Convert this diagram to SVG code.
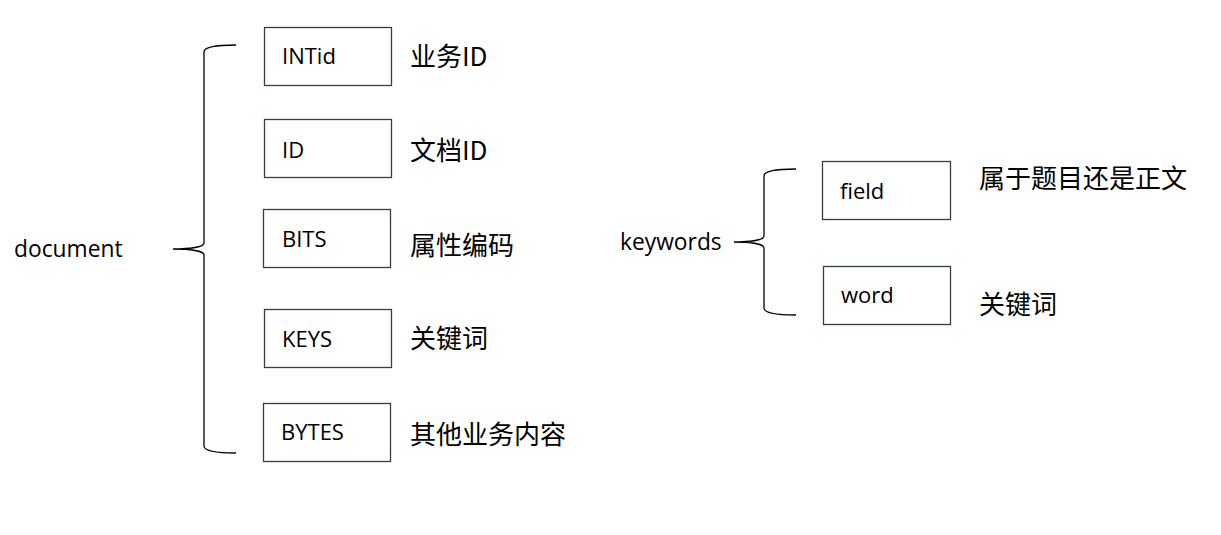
<svg xmlns="http://www.w3.org/2000/svg" width="1221" height="535" viewBox="0 0 1221 535">
<style>
.box{fill:#fff;stroke:#2f3f4f;stroke-width:1.3}
.br{fill:none;stroke:#000;stroke-width:1.3}
.lt{font-family:"Open Sans","Noto Sans CJK SC",sans-serif;font-size:22px;fill:#000}
.big{font-size:22.8px}
.cj{font-family:"Noto Sans CJK SC",sans-serif;font-size:26px;fill:#000}
</style>
<rect width="1221" height="535" fill="#fff"/>
<g id="connectors">
<path class="br" d="M236,45 C215,45 204,47 204,52 L204,243 C204,247 190,249 173,249 C190,249 204,251 204,255 L204,446 C204,451 215,453 236,453"/>
<path class="br" d="M796,169 C775,169 764,171 764,176 L764,236 C764,240 750,242 734,242 C750,242 764,244 764,248 L764,308 C764,313 775,315 796,315"/>
</g>
<g id="document"><text class="lt big" x="14" y="257">document</text></g>
<g id="keywords"><text class="lt big" x="620" y="250">keywords</text></g>
<g id="intid"><rect class="box" x="264.5" y="27.5" width="127" height="58"/><text class="lt" x="282" y="64">INTid</text><text class="cj" x="410" y="66">业务ID</text></g>
<g id="id"><rect class="box" x="264.5" y="119.5" width="127" height="58"/><text class="lt" x="282" y="158">ID</text><text class="cj" x="410" y="160">文档ID</text></g>
<g id="bits"><rect class="box" x="263.5" y="209.5" width="127" height="58"/><text class="lt" x="282" y="247">BITS</text><text class="cj" x="410" y="255">属性编码</text></g>
<g id="keys"><rect class="box" x="264.5" y="309.5" width="127" height="58"/><text class="lt" x="282" y="347">KEYS</text><text class="cj" x="410" y="348">关键词</text></g>
<g id="bytes"><rect class="box" x="263.5" y="403.5" width="127" height="58"/><text class="lt" x="281" y="440">BYTES</text><text class="cj" x="410" y="444">其他业务内容</text></g>
<g id="field"><rect class="box" x="822.5" y="161.5" width="128" height="58"/><text class="lt" x="840" y="199">field</text><text class="cj" x="979" y="188">属于题目还是正文</text></g>
<g id="word"><rect class="box" x="823.5" y="266.5" width="127" height="58"/><text class="lt" x="841" y="303">word</text><text class="cj" x="979" y="314">关键词</text></g>
</svg>
